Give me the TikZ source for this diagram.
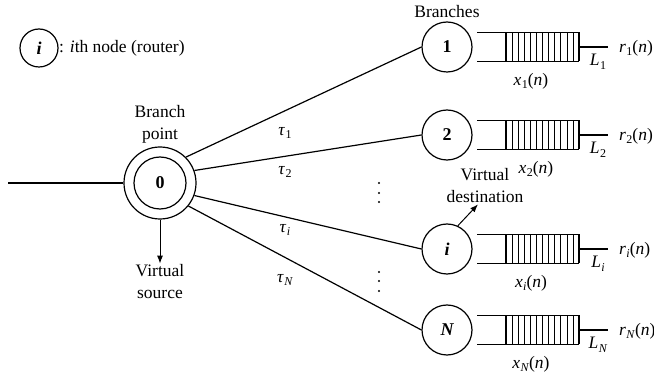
\documentclass[tikz,border=0pt]{standalone}
\usepackage{fontspec}
\setmainfont{Liberation Serif}
\usetikzlibrary{arrows.meta,calc}
\newcommand{\vsub}[2]{#1\kern0.4pt\raisebox{-0.45ex}{\fontsize{12}{12}\selectfont #2}}
\tikzset{
  ln/.style={line width=1.2pt},
  brnode/.style={circle,draw,line width=1.2pt,minimum size=50pt,inner sep=0pt,font=\fontsize{18}{18}\selectfont\bfseries},
  lbl/.style={inner sep=1pt},
  arr/.style={line width=1pt,-{Latex[length=8pt,width=6pt]}},
  queue/.pic={
    \draw[ln] (30,-14.5) -- (132,-14.5) (30,14.5) -- (132,14.5);
    \draw[ln] (59,-14.5) -- (59,14.5) (132,-14.5) -- (132,14.5);
    \foreach \k in {1,...,11} \draw[line width=0.6pt] ({59+\k*6.083},-14.5) -- ({59+\k*6.083},14.5);
    \draw[ln] (132,0) -- (161,0);
  }
}
\begin{document}
\begin{tikzpicture}[x=1pt,y=-1pt,font=\fontsize{17.5}{22}\selectfont]
\useasboundingbox (0,0) rectangle (654,382);

% legend
\node[circle,draw,line width=1.2pt,minimum size=38pt,inner sep=0pt,font=\fontsize{18}{18}\selectfont\bfseries\itshape] (leg) at (39,48) {i};
\node[lbl,anchor=west] (legtxt) at (58,48) {: \textit{i}th node (router)};

% branch point
\node[circle,draw,line width=1.2pt,minimum size=72pt,inner sep=0pt] (n0) at (160,183) {};
\node[circle,draw,line width=1.2pt,minimum size=52pt,inner sep=0pt,font=\fontsize{18}{18}\selectfont\bfseries] (n0in) at (160,183) {0};
\node[lbl,align=center] (bp) at (160,124) {Branch\\point};
\coordinate (in) at (8,183);
\draw[ln] (in) -- (n0.west);

% virtual source
\node[lbl,align=center] (vs) at (160,282) {Virtual\\source};
\draw[arr] (n0.south) -- (vs.north);

% branch nodes
\node[brnode] (n1) at (447,47) {1};
\node[brnode] (n2) at (447,135) {2};
\node[brnode,font=\fontsize{18}{18}\selectfont\bfseries\itshape] (ni) at (447,249) {i};
\node[brnode,font=\fontsize{18}{18}\selectfont\bfseries\itshape] (nN) at (447,330) {N};
\node[lbl] (brs) at (447,12) {Branches};

% links
\draw[ln] (n0.45) -- (n1.west);
\draw[ln] (n0.20) -- (n2.west);
\draw[ln] (n0.-20) -- (ni.west);
\draw[ln] (n0.-39) -- (nN.west);

\node[lbl] (t1) at (285,133) {\vsub{\textit{τ}}{1}};
\node[lbl] (t2) at (285,172) {\vsub{\textit{τ}}{2}};
\node[lbl] (ti) at (285,230) {\vsub{\textit{τ}}{\textit{i}}};
\node[lbl] (tN) at (285,280) {\vsub{\textit{τ}}{\textit{N}}};

% vertical dots
\foreach \yy in {183,193,202,272,281,291} \fill (379,\yy) circle (1.1pt);

% queues
\foreach \n in {n1,n2,ni,nN} \pic at (\n) {queue};

% queue labels
\node[lbl] (x1) at ($(n1)+(84,34)$) {\vsub{\textit{x}}{1}(\textit{n})};
\node[lbl] (x2) at ($(n2)+(89,34)$) {\vsub{\textit{x}}{2}(\textit{n})};
\node[lbl] (xi) at ($(ni)+(84,34)$) {\vsub{\textit{x}}{\textit{i}}(\textit{n})};
\node[lbl] (xN) at ($(nN)+(84,34)$) {\vsub{\textit{x}}{\textit{N}}(\textit{n})};

\node[lbl] (L1) at ($(n1)+(151,15)$) {\vsub{\textit{L}}{1}};
\node[lbl] (L2) at ($(n2)+(151,15)$) {\vsub{\textit{L}}{2}};
\node[lbl] (Li) at ($(ni)+(151,15)$) {\vsub{\textit{L}}{\textit{i}}};
\node[lbl] (LN) at ($(nN)+(151,15)$) {\vsub{\textit{L}}{\textit{N}}};

\node[lbl,anchor=west] (r1) at ($(n1)+(171,1)$) {\vsub{\textit{r}}{1}(\textit{n})};
\node[lbl,anchor=west] (r2) at ($(n2)+(171,1)$) {\vsub{\textit{r}}{2}(\textit{n})};
\node[lbl,anchor=west] (ri) at ($(ni)+(171,1)$) {\vsub{\textit{r}}{\textit{i}}(\textit{n})};
\node[lbl,anchor=west] (rN) at ($(nN)+(171,1)$) {\vsub{\textit{r}}{\textit{N}}(\textit{n})};

% virtual destination
\node[lbl,align=center] (vd) at (485,186) {Virtual\\destination};
\draw[arr] (ni.65) -- ([xshift=-7pt]vd.south);
\end{tikzpicture}
\end{document}
